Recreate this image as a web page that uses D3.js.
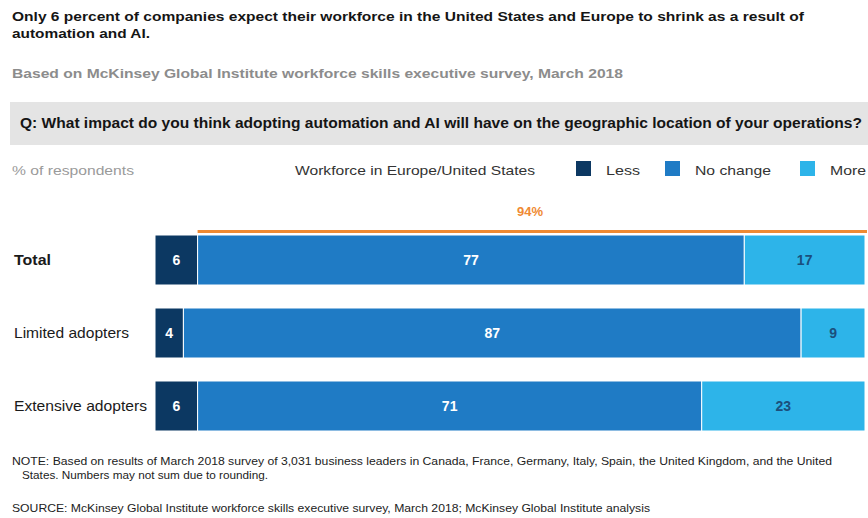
<!DOCTYPE html>
<html>
<head>
<meta charset="utf-8">
<script src="https://cdn.jsdelivr.net/npm/d3@7"></script>
<style>
  html, body { margin: 0; padding: 0; background: #fff; }
  svg { display: block; font-family: "Liberation Sans", Arial, sans-serif; }
</style>
</head>
<body>
<svg id="chart" width="868" height="518"></svg>
<script>
// Survey rows and the three answer shares (% of respondents)
const categories = ["Total", "Limited adopters", "Extensive adopters"];
const seriesNames = ["Less", "No change", "More"];
const lessValues = [6, 4, 6];
const noChangeValues = [77, 87, 71];
const moreValues = [17, 9, 23];
const seriesColors = ["#0c3862", "#1f7bc5", "#2db4e9"];
const labelColors = ["#ffffff", "#ffffff", "#1b4f7c"];

const rows = categories.map((c, i) => ({
  name: c,
  values: [lessValues[i], noChangeValues[i], moreValues[i]]
}));

const svg = d3.select("#chart");

// Headline
const title = svg.append("g").attr("font-weight", "bold").attr("font-size", 13).attr("fill", "#151515");
title.append("text").attr("x", 12).attr("y", 21)
  .attr("textLength", 792).attr("lengthAdjust", "spacingAndGlyphs")
  .text("Only 6 percent of companies expect their workforce in the United States and Europe to shrink as a result of");
title.append("text").attr("x", 12).attr("y", 38)
  .attr("textLength", 138).attr("lengthAdjust", "spacingAndGlyphs")
  .text("automation and AI.");

svg.append("text").attr("x", 12).attr("y", 78)
  .attr("font-size", 12.5).attr("font-weight", "bold").attr("fill", "#8c8c8c")
  .attr("textLength", 611).attr("lengthAdjust", "spacingAndGlyphs")
  .text("Based on McKinsey Global Institute workforce skills executive survey, March 2018");

// Question banner
svg.append("rect").attr("x", 10).attr("y", 102).attr("width", 858).attr("height", 43).attr("fill", "#e4e4e4");
svg.append("text").attr("x", 20).attr("y", 128)
  .attr("font-size", 14).attr("font-weight", "bold").attr("fill", "#151515")
  .attr("textLength", 842).attr("lengthAdjust", "spacingAndGlyphs")
  .text("Q: What impact do you think adopting automation and AI will have on the geographic location of your operations?");

// Unit note and legend
svg.append("text").attr("x", 12).attr("y", 175).attr("font-size", 13.5).attr("fill", "#9a9a9a")
  .attr("textLength", 122).attr("lengthAdjust", "spacingAndGlyphs")
  .text("% of respondents");
svg.append("text").attr("x", 295).attr("y", 175).attr("font-size", 13.5).attr("fill", "#333")
  .attr("textLength", 240).attr("lengthAdjust", "spacingAndGlyphs")
  .text("Workforce in Europe/United States");

const legendX = [576, 665, 800];
const legendW = [34, 76, 36];
const legend = svg.append("g").selectAll("g").data(seriesNames).join("g")
  .attr("transform", (d, i) => `translate(${legendX[i]},161)`);
legend.append("rect").attr("width", 15).attr("height", 15).attr("fill", (d, i) => seriesColors[i]);
legend.append("text").attr("x", 30).attr("y", 14).attr("font-size", 13.5).attr("fill", "#333")
  .attr("textLength", (d, i) => legendW[i]).attr("lengthAdjust", "spacingAndGlyphs")
  .text(d => d);

// Scales
const x = d3.scaleLinear().domain([0, 100]).range([155, 865]);
const y = d3.scaleBand().domain(categories).range([235, 431]).paddingInner(0.315).paddingOuter(0);

// Stacked segments
const stacked = rows.map(r => {
  let acc = 0;
  return r.values.map((v, i) => {
    const seg = { row: r.name, series: i, value: v, x0: acc, x1: acc + v };
    acc += v;
    return seg;
  });
}).flat();

const bars = svg.append("g");
bars.selectAll("rect").data(stacked).join("rect")
  .attr("x", d => x(d.x0))
  .attr("y", d => y(d.row))
  .attr("width", d => x(d.x1) - x(d.x0))
  .attr("height", y.bandwidth())
  .attr("fill", d => seriesColors[d.series])
  .attr("stroke", "#ffffff").attr("stroke-width", 1);

bars.selectAll("text").data(stacked).join("text")
  .attr("x", d => (x(d.x0) + x(d.x1)) / 2)
  .attr("y", d => y(d.row) + y.bandwidth() / 2 + 5)
  .attr("text-anchor", "middle")
  .attr("font-size", 14).attr("font-weight", "bold")
  .attr("fill", d => labelColors[d.series])
  .text(d => d.value);

// Row labels
const rowLabelW = [37, 115, 133];
svg.append("g").selectAll("text").data(categories).join("text")
  .attr("x", 14)
  .attr("y", d => y(d) + y.bandwidth() / 2 + 5)
  .attr("font-size", 15)
  .attr("font-weight", (d, i) => i === 0 ? "bold" : "normal")
  .attr("fill", "#1a1a1a")
  .attr("textLength", (d, i) => rowLabelW[i]).attr("lengthAdjust", "spacingAndGlyphs")
  .text(d => d);

// Bracket over the "No change" + "More" share of the total row
const totalRow = rows[0];
const notLess = totalRow.values[1] + totalRow.values[2];
svg.append("rect")
  .attr("x", x(totalRow.values[0])).attr("y", y(totalRow.name) - 5)
  .attr("width", x(100) - x(totalRow.values[0]) + 2).attr("height", 3)
  .attr("fill", "#ef8a33");
svg.append("text")
  .attr("x", 530).attr("y", y(totalRow.name) - 19)
  .attr("text-anchor", "middle").attr("font-size", 13).attr("font-weight", "bold")
  .attr("fill", "#ef8a33")
  .text(notLess + "%");

// Footnotes
const foot = svg.append("g").attr("font-size", 10.5).attr("fill", "#222");
foot.append("text").attr("x", 12).attr("y", 465)
  .attr("textLength", 820).attr("lengthAdjust", "spacingAndGlyphs")
  .text("NOTE: Based on results of March 2018 survey of 3,031 business leaders in Canada, France, Germany, Italy, Spain, the United Kingdom, and the United");
foot.append("text").attr("x", 22).attr("y", 479)
  .attr("textLength", 246).attr("lengthAdjust", "spacingAndGlyphs")
  .text("States. Numbers may not sum due to rounding.");
foot.append("text").attr("x", 12).attr("y", 512)
  .attr("textLength", 638).attr("lengthAdjust", "spacingAndGlyphs")
  .text("SOURCE: McKinsey Global Institute workforce skills executive survey, March 2018; McKinsey Global Institute analysis");
</script>
</body>
</html>
